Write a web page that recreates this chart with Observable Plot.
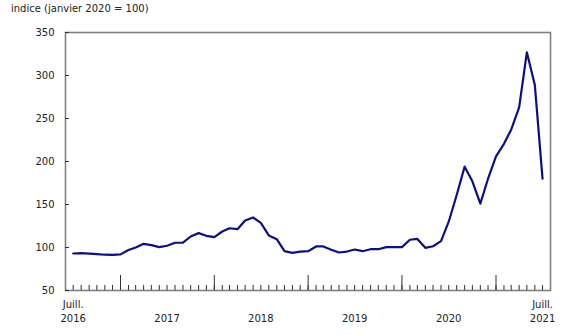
<!DOCTYPE html>
<html><head><meta charset="utf-8">
<script src="https://cdn.jsdelivr.net/npm/d3@7"></script>
<script src="https://cdn.jsdelivr.net/npm/@observablehq/plot@0.6"></script>
<style>
body{margin:0;background:#fff;}
#wrap{position:relative;width:580px;height:335px;font-family:"DejaVu Sans",Verdana,sans-serif;}
#title{position:absolute;left:11px;top:3px;font-size:10px;line-height:11px;color:#222;white-space:nowrap;}
</style></head><body>
<div id="wrap"><div id="title">indice (janvier 2020 = 100)</div></div>
<script>
// monthly index, July 2016 to July 2021 (January 2020 = 100)
const startMonth = [2016, 6]; // year, zero-based month (July)
const values = [
  93, 93.5, 92.8, 92.2, 91.6, 91.4,
  92, 97, 100, 104.3, 102.7, 100.4, 102, 105.5, 105.7, 112.8, 116.7, 113.6,
  112, 118.6, 122.4, 121.3, 131.4, 134.9, 128.7, 114, 109.7, 95.7, 93.8, 95.3,
  95.7, 101.2, 101.2, 97.3, 94.2, 95.3, 97.7, 95.7, 98, 98, 100.4, 100.4,
  100.5, 109, 110, 99.6, 101.5, 107.4, 130, 161, 194, 177, 151, 180,
  206, 220.5, 237, 263, 327, 289, 180
];
const yTicks = [50, 100, 150, 200, 250, 300, 350];
const yearLabels = ["2016", "2017", "2018", "2019", "2020", "2021"];
const monthLabel = "Juill.";
const monthLabelYears = [2016, 2021];

const dates = values.map((v, i) => new Date(Date.UTC(startMonth[0], startMonth[1] + i, 1)));
const data = dates.map((d, i) => ({date: d, value: values[i]}));
const janDates = dates.filter(d => d.getUTCMonth() === 0);
const yearLabelData = yearLabels.map(y => ({date: new Date(Date.UTC(+y, 6, 1)), text: y}));
const monthLabelData = monthLabelYears.map(y => ({date: new Date(Date.UTC(y, 6, 1)), text: monthLabel}));

const chart = Plot.plot({
  width: 580, height: 335,
  marginLeft: 65, marginRight: 30, marginTop: 32, marginBottom: 45,
  style: {fontFamily: '"DejaVu Sans", Verdana, sans-serif', fontSize: "10px", color: "#222", background: "#fff"},
  x: {type: "utc", domain: [new Date(Date.UTC(2016, 5, 1)), new Date(Date.UTC(2021, 7, 1))]},
  y: {domain: [50, 350]},
  marks: [
    Plot.frame({stroke: "#808080", strokeWidth: 1.6}),
    Plot.axisY(yTicks, {tickSize: 0, tickPadding: 11, fill: "#222", label: null}),
    Plot.axisY(yTicks, {tickSize: -4, fill: "none", stroke: "#333", label: null}),
    Plot.axisX(dates, {tickSize: -5, fill: "none", stroke: "#333", label: null}),
    Plot.axisX(janDates, {tickSize: -15, fill: "none", stroke: "#333", label: null}),
    Plot.text(yearLabelData, {x: "date", text: "text", frameAnchor: "bottom", dy: 31, fill: "#222"}),
    Plot.text(monthLabelData, {x: "date", text: "text", frameAnchor: "bottom", dy: 17, fill: "#222"}),
    Plot.lineY(data, {x: "date", y: "value", stroke: "#0e0e88", strokeWidth: 2.2})
  ]
});
document.getElementById("wrap").appendChild(chart);
</script>
</body></html>
